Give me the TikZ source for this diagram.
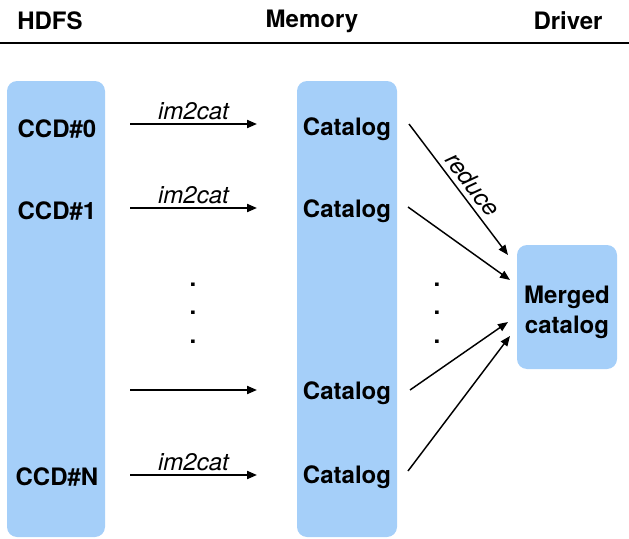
\documentclass[tikz,border=0pt]{standalone}
\usepackage{fontspec}
\setmainfont{TeX Gyre Heros}
\usepackage{xcolor}
\usetikzlibrary{arrows.meta}

\definecolor{lightblue}{RGB}{165,207,249}

\tikzset{
  column/.style={fill=lightblue, rounded corners=7.5pt},
  boxlabel/.style={inner sep=0.75pt, font=\fontsize{18}{22.5}\selectfont\bfseries},
  arrowlabel/.style={inner sep=0.75pt, font=\fontsize{18}{21}\selectfont\itshape},
  flow/.style={line width=1.5pt, -{Triangle[length=7.5pt,width=6pt]}},
  merge/.style={line width=1.1pt, -{Triangle[length=7.5pt,width=6pt]}},
  dots/.style={inner sep=0pt, font=\fontsize{18}{21}\selectfont\bfseries}
}

\begin{document}
\begin{tikzpicture}[x=0.75pt,y=0.75pt,yscale=-1,xscale=1]
  \useasboundingbox (0,0) rectangle (629,539);

  % headers
  \node[boxlabel] (hdfs) at (50,21) {HDFS};
  \node[boxlabel] (memory) at (312,21) {Memory};
  \node[boxlabel] (driver) at (568,21) {Driver};
  \draw [line width=2pt] (0,43) -- (629,43);

  % columns
  \fill[column] (7,81) rectangle (105,537);
  \fill[column] (297,81) rectangle (397,537);
  \node[column, minimum width=75pt, minimum height=93pt] (mergedbox) at (567,307) {};

  % Text Node
  \node[boxlabel] (ccd0) at (57,129) {CCD\#0};
  \node[boxlabel] (ccd1) at (57,211) {CCD\#1};
  \node[boxlabel] (ccdn) at (57,477) {CCD\#N};
  \node[boxlabel] (cat0) at (347,129) {Catalog};
  \node[boxlabel] (cat1) at (347,211) {Catalog};
  \node[boxlabel] (cat2) at (347,393) {Catalog};
  \node[boxlabel] (catn) at (347,477) {Catalog};
  \node[boxlabel, align=center] (merged) at (567,312) {Merged\\catalog};

  % vertical dots
  \foreach \y in {285,313,342} {
    \node[dots] at (193,\y) {.};
    \node[dots] at (437,\y) {.};
  }

  % im2cat arrows
  \coordinate (s0) at (130,124);  \coordinate (e0) at (257,124);
  \coordinate (s1) at (130,208);  \coordinate (e1) at (257,208);
  \coordinate (s2) at (130,390);  \coordinate (e2) at (257,390);
  \coordinate (sn) at (130,475);  \coordinate (en) at (257,475);
  \draw[flow] (s0) -- node[arrowlabel, above=1.5pt] {im2cat} (e0);
  \draw[flow] (s1) -- node[arrowlabel, above=1.5pt] {im2cat} (e1);
  \draw[flow] (s2) -- (e2);
  \draw[flow] (sn) -- node[arrowlabel, above=1.5pt] {im2cat} (en);

  % reduce arrows
  \coordinate (r0) at (409,124);  \coordinate (m0) at (508,255);
  \coordinate (r1) at (408,207);  \coordinate (m1) at (510,280);
  \coordinate (r2) at (410,390);  \coordinate (m2) at (508,322);
  \coordinate (rn) at (408,471);  \coordinate (mn) at (510,336);
  \draw[merge] (r0) -- (m0);
  \draw[merge] (r1) -- (m1);
  \draw[merge] (r2) -- (m2);
  \draw[merge] (rn) -- (mn);
  \node[arrowlabel, rotate=-53] (reduce) at (473,184) {reduce};
\end{tikzpicture}
\end{document}
